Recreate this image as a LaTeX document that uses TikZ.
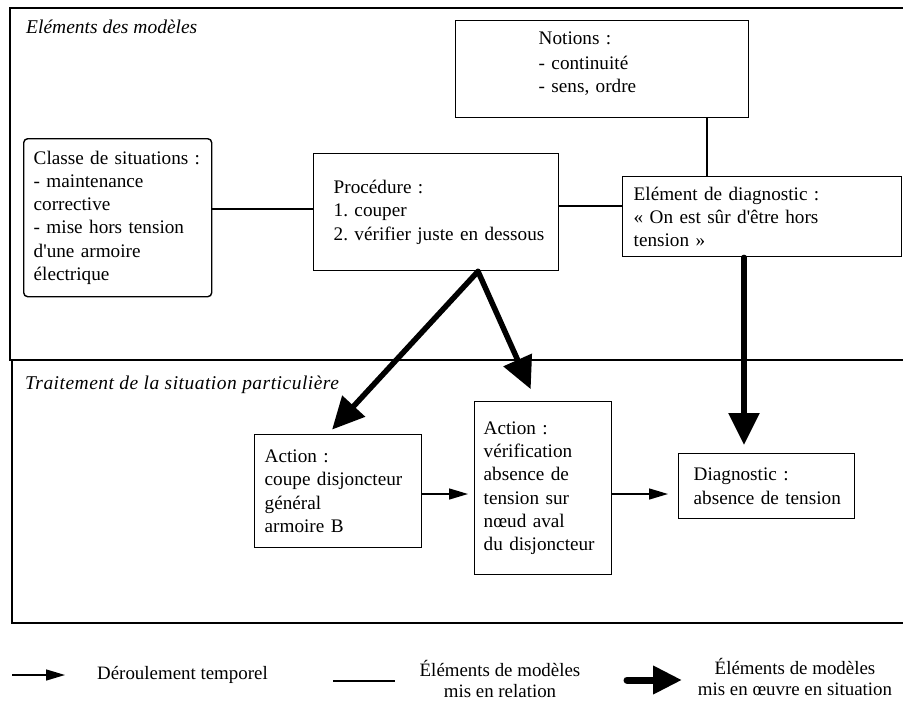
\documentclass[tikz,border=0pt]{standalone}
\usepackage{fontspec}
\setmainfont{Liberation Serif}
\newfontfamily\spacedserif[LetterSpace=2.5]{Liberation Serif}
\usetikzlibrary{arrows.meta}
\frenchspacing
\tikzset{
  txt/.style={font=\fontsize{19.2}{23.2}\selectfont\frenchspacing},
  box/.style={draw, line width=1.4pt, anchor=north west, align=left, inner ysep=0pt, txt},
  frame/.style={line width=2pt},
  rel/.style={line width=1.4pt},
  seq/.style={line width=1.4pt, -{Triangle[length=19pt,width=11pt]}},
  use/.style={line width=5.5pt, line cap=round, -{Triangle[length=32pt,width=30pt]}},
  lbl/.style={font=\fontsize{19.5}{23.2}\selectfont\itshape, anchor=base west, inner sep=0pt},
  leg/.style={font=\fontsize{18.9}{21.5}\selectfont\frenchspacing, inner sep=0pt},
}
\begin{document}
\begin{tikzpicture}[x=1pt,y=-1pt]
\useasboundingbox (0,0) rectangle (903,702);

% frames
\draw[frame] (903,8) -- (10,8) -- (10,360) -- (903,360);
\draw[frame] (903,360) -- (12,360) -- (12,623) -- (903,623);
\node[lbl] (t1) at (26,33) {Eléments des modèles};
\node[lbl] (t2) at (25,389) {\spacedserif\itshape Traitement de la situation particulière};

% boxes
\node[box, inner xsep=83pt, text width=127pt, minimum height=97pt] (notions) at (455,20)
  {Notions :\\[2pt]- continuité\\- sens, ordre\rule[-14pt]{0pt}{14pt}};
\node[box, rounded corners=4pt, inner xsep=10pt, text width=168pt, minimum height=158pt] (classe) at (23,138)
  {Classe de situations :\\- maintenance\\corrective\\- mise hors tension\\d\textquotesingle une armoire\\électrique};
\node[box, inner xsep=20pt, text width=205pt, minimum height=117pt] (proc) at (313,153)
  {Procédure :\\1. couper\\\mbox{2. vérifier juste en dessous}};
\node[box, inner xsep=11pt, text width=257pt, minimum height=80pt] (elem) at (622,176)
  {Elément de diagnostic :\\« On est sûr d\textquotesingle être hors\\tension »};
\node[box, inner xsep=10pt, text width=147pt, minimum height=113pt] (act1) at (254,434)
  {Action :\\coupe disjoncteur\\général\\armoire B};
\node[box, inner xsep=9pt, text width=119pt, minimum height=173pt] (act2) at (474,401)
  {Action :\\vérification\\absence de\\tension sur\\nœud aval\\du disjoncteur};
\node[box, inner xsep=15pt, text width=146pt, minimum height=65pt] (diag) at (678,453)
  {Diagnostic :\\\mbox{absence de tension}};

% relations
\draw[rel] (notions.south -| 707,0) -- (elem.north -| 707,0);
\draw[rel] (classe.east |- 0,209) -- (proc.west |- 0,209);
\draw[rel] (proc.east |- 0,206) -- (elem.west |- 0,206);

% temporal sequence
\draw[seq, shorten >=6pt] (act1.east |- 0,494) -- (act2.west |- 0,494);
\draw[seq, shorten >=10pt] (act2.east |- 0,494) -- (diag.west |- 0,494);

% models used in situation
\draw[use, shorten >=6pt] (proc.south -| 478,0) -- (act1.north -| 328,0);
\draw[use, shorten >=13pt] (proc.south -| 478,0) -- (act2.north -| 536,0);
\draw[use, shorten >=8pt] (elem.south -| 744,0) -- (diag.north -| 744,0);

% legend
\coordinate (la) at (12,675);
\coordinate (lb) at (65,675);
\draw[seq] (la) -- (lb);
\node[leg, anchor=base west] (leg1) at (97,679) {Déroulement temporel};
\coordinate (lc) at (333,681);
\coordinate (ld) at (395,681);
\draw[line width=1.8pt] (lc) -- (ld);
\node[leg, align=center] (leg2) at (500,679) {Éléments de modèles\\mis en relation};
\coordinate (le) at (627,680);
\coordinate (lf) at (682,680);
\draw[line width=7pt, line cap=round, -{Triangle[length=29pt,width=27pt]}] (le) -- (lf);
\node[leg, align=center] (leg3) at (795,677) {Éléments de modèles\\mis en œuvre en situation};
\end{tikzpicture}
\end{document}
